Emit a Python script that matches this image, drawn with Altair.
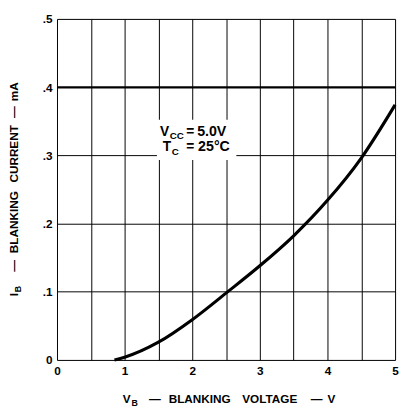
import altair as alt
import pandas as pd

# Curve data
vb = [0.85, 1.0, 1.5, 2.0, 2.5, 3.0, 3.5, 4.0, 4.5, 5.0]
ib = [0.0, 0.004, 0.026, 0.059, 0.098, 0.138, 0.182, 0.234, 0.296, 0.374]

x_ticks = [0, 0.5, 1, 1.5, 2, 2.5, 3, 3.5, 4, 4.5, 5]
y_ticks = [0, 0.1, 0.2, 0.3, 0.4, 0.5]
bold_grid = [0.4]

FONT = "Liberation Sans"
W, H = 345, 348
OX, OY = 58, 15  # plot origin on page

curve_df = pd.DataFrame({"vb": vb, "ib": ib})
one = pd.DataFrame({"a": [0]})

xscale = alt.Scale(domain=[0, 5], nice=False, zero=False)
yscale = alt.Scale(domain=[0, 0.5], nice=False)

base = alt.Chart(curve_df)

curve = base.mark_line(color="black", strokeWidth=3.2, interpolate="monotone").encode(
    x=alt.X("vb:Q", scale=xscale,
            axis=alt.Axis(values=x_ticks, title=None, grid=True, domain=False, ticks=False,
                          labelExpr="datum.value % 1 == 0 ? format(datum.value, 'd') : ''",
                          labelFlush=False, labelPadding=6, labelFontSize=12,
                          labelFont=FONT, labelFontWeight="bold", labelColor="black",
                          gridColor="black", gridWidth=1, gridOpacity=1)),
    y=alt.Y("ib:Q", scale=yscale,
            axis=alt.Axis(values=y_ticks, title=None, grid=True, domain=False, ticks=False,
                          labelExpr="datum.value == 0 ? '0' : replace(format(datum.value, '.1f'), '0.', '.')",
                          labelPadding=5, labelFontSize=12,
                          labelFont=FONT, labelFontWeight="bold", labelColor="black",
                          gridColor="black", gridWidth=1, gridOpacity=1)),
)

thick = alt.Chart(pd.DataFrame({"y": bold_grid})).mark_rule(color="black", strokeWidth=2).encode(
    y=alt.Y("y:Q", scale=yscale)
)

# white box behind annotation
box = alt.Chart(one).mark_rect(color="white").encode(
    x=alt.value(160 - OX), x2=alt.value(241 - OX),
    y=alt.value(118 - OY), y2=alt.value(159 - OY)
)


def txt(s, px, py, size, angle=0):
    return alt.Chart(one).mark_text(
        text=s, font=FONT, fontWeight="bold", fontSize=size, color="black",
        align="left", baseline="alphabetic", angle=angle
    ).encode(x=alt.value(px - OX), y=alt.value(py - OY))


pieces = [
    # annotation
    txt("V", 163, 134, 14), txt("CC", 173, 138, 10), txt("=", 190, 134, 14), txt("5.0V", 201, 134, 14.5),
    txt("T", 166, 150, 14), txt("C", 175, 154, 10), txt("=", 190, 150, 14), txt("25°C", 202, 150, 14.5),
    # x title
    txt("V", 125, 407, 12), txt("B", 134, 410, 9), txt("—", 152, 407, 12),
    txt("BLANKING", 172, 407, 12), txt("VOLTAGE", 247, 407, 12), txt("—", 317, 407, 12),
    txt("V", 334, 407, 12),
    # y title (rotated)
    txt("I", 18, 298, 12, 270), txt("B", 21, 294, 9, 270), txt("—", 18, 273, 12, 270),
    txt("BLANKING", 18, 254, 12, 270), txt("CURRENT", 18, 182, 12, 270),
    txt("—", 18, 116, 12, 270), txt("mA", 18, 99, 12, 270),
]

chart = alt.layer(box, thick, curve, *pieces).properties(
    width=W, height=H,
    autosize=alt.AutoSizeParams(type="none"),
    padding={"left": 50, "top": 7, "right": 4, "bottom": 50},
).configure_view(stroke="black", strokeWidth=2).configure(background="white")

chart.save("out.html", embed_options={"renderer": "svg", "actions": False})
